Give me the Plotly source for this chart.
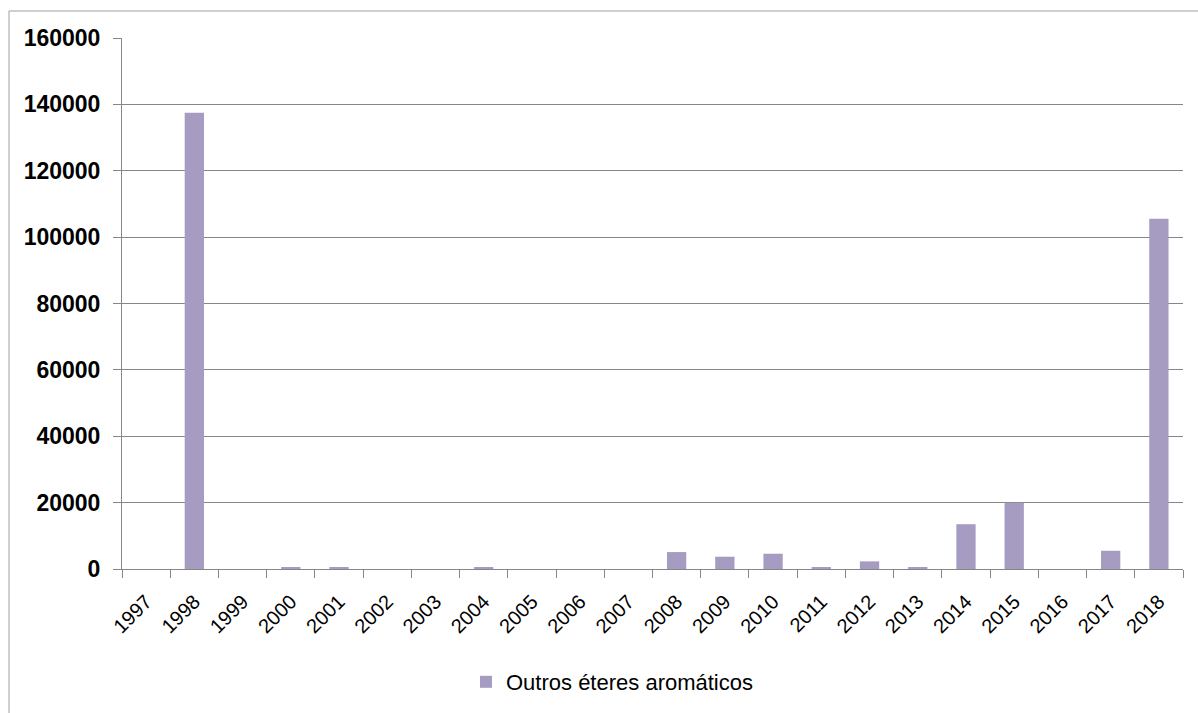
import plotly.graph_objects as go

years = [str(y) for y in range(1997, 2019)]
values = [0, 137500, 0, 500, 500, 0, 0, 400, 0, 0, 0,
          5100, 3700, 4600, 500, 2300, 500, 13500, 20000, 0, 5500, 105500]
series_name = "Outros éteres aromáticos"
y_ticks = [0, 20000, 40000, 60000, 80000, 100000, 120000, 140000, 160000]

W, H = 1198, 713
L, R, T, B = 122, 15, 38, 144
pw, ph = W - L - R, H - T - B

def px_x(p):
    return (p - L) / pw

def px_y(p):
    return (H - B - p) / ph

fig = go.Figure()
fig.add_trace(go.Bar(
    x=years, y=values, name=series_name,
    marker=dict(color="#A69BC0", line=dict(width=0)),
    showlegend=True,
))

fig.update_layout(
    width=W, height=H,
    margin=dict(l=L, r=R, t=T, b=B, pad=0, autoexpand=False),
    paper_bgcolor="white", plot_bgcolor="white",
    bargap=0.6,
    font=dict(family="Liberation Sans", color="#000000"),
    showlegend=True,
    legend=dict(
        orientation="h", x=px_x(612), y=px_y(682),
        xanchor="center", yanchor="middle",
        font=dict(size=22, family="Liberation Sans"),
        itemwidth=30,
    ),
    xaxis=dict(
        type="category",
        automargin=False,
        tickson="boundaries",
        ticks="outside", ticklen=8, tickcolor="#868686", tickwidth=1,
        showline=True, linecolor="#868686", linewidth=1,
        showgrid=False,
        tickangle=-45,
        tickfont=dict(size=20, family="Liberation Sans"),
        ticklabelstandoff=12,
    ),
    yaxis=dict(
        automargin=False,
        range=[0, 160000],
        tickvals=y_ticks,
        ticktext=[str(v) for v in y_ticks],
        ticks="outside", ticklen=8, tickcolor="#868686", tickwidth=1,
        showline=True, linecolor="#868686", linewidth=1,
        showgrid=True, gridcolor="#868686", gridwidth=1,
        zeroline=False,
        tickfont=dict(size=23, family="Liberation Sans", weight="bold"),
        ticklabelstandoff=8,
    ),
    shapes=[
        dict(type="line", xref="paper", yref="paper",
             x0=px_x(9), x1=px_x(9), y0=px_y(11), y1=px_y(713),
             line=dict(color="#A0A0A0", width=1)),
        dict(type="line", xref="paper", yref="paper",
             x0=px_x(9), x1=px_x(1198), y0=px_y(11), y1=px_y(11),
             line=dict(color="#A0A0A0", width=1)),
    ],
)

fig.write_html("out.html")
